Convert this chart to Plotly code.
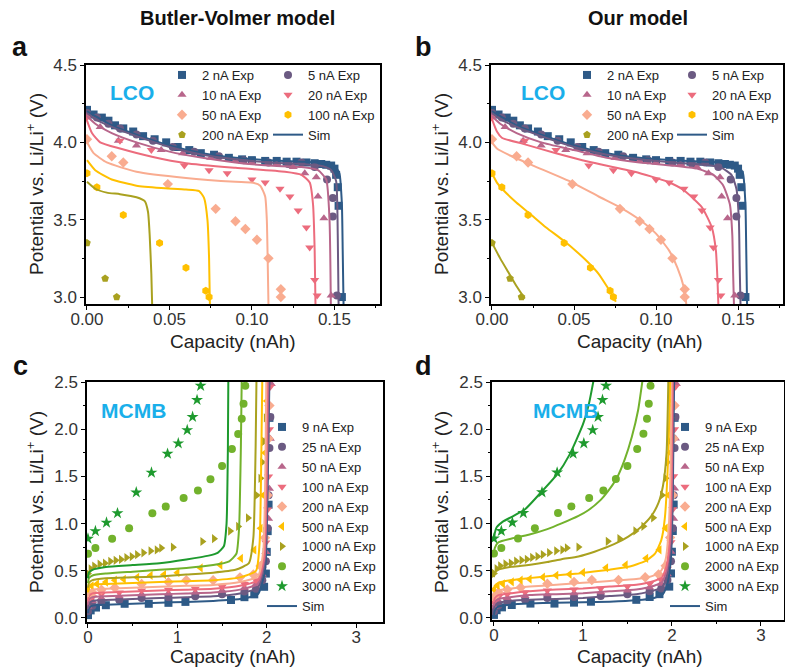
import plotly.graph_objects as go

# ---------------- LCO experimental data (shared by panels a and b) ----------------
lco_labels = ["2 nA Exp", "5 nA Exp", "10 nA Exp", "20 nA Exp", "50 nA Exp", "100 nA Exp", "200 nA Exp"]

lco_2_cap = [0.000, 0.004, 0.009, 0.013, 0.017, 0.022, 0.028, 0.034, 0.041, 0.048, 0.055, 0.062, 0.069, 0.077,
             0.086, 0.094, 0.100, 0.108, 0.115, 0.121, 0.127, 0.133, 0.138, 0.142, 0.145, 0.148, 0.150, 0.151,
             0.152, 0.1525, 0.1545]
lco_2_v = [4.21, 4.18, 4.16, 4.14, 4.11, 4.09, 4.07, 4.04, 4.02, 4.00, 3.97, 3.95, 3.93, 3.92, 3.90, 3.89, 3.885,
           3.88, 3.88, 3.875, 3.875, 3.87, 3.865, 3.86, 3.855, 3.85, 3.83, 3.79, 3.71, 3.59, 3.00]

lco_5_cap = [0.000, 0.006, 0.013, 0.020, 0.030, 0.040, 0.052, 0.065, 0.080, 0.095, 0.110, 0.122, 0.130, 0.138,
             0.1455, 0.149, 0.149, 0.1515]
lco_5_v = [4.19, 4.16, 4.12, 4.09, 4.05, 4.01, 3.97, 3.94, 3.91, 3.885, 3.87, 3.86, 3.87, 3.84, 3.76, 3.64,
           3.52, 3.01]

lco_10_cap = [0.000, 0.008, 0.019, 0.030, 0.045, 0.058, 0.075, 0.090, 0.100, 0.115, 0.125, 0.132, 0.139,
              0.140, 0.1436, 0.148]
lco_10_v = [4.17, 4.10, 4.01, 3.98, 3.95, 3.93, 3.90, 3.88, 3.87, 3.86, 3.84, 3.80, 3.775, 3.65, 3.51, 3.01]

lco_20_cap = [0.000, 0.020, 0.039, 0.059, 0.074, 0.085, 0.100, 0.108, 0.117, 0.123, 0.128, 0.133, 0.135,
              0.138, 0.1395]
lco_20_v = [4.16, 4.01, 3.95, 3.85, 3.82, 3.80, 3.76, 3.74, 3.70, 3.65, 3.56, 3.45, 3.32, 3.11, 3.01]

lco_50_cap = [0.000, 0.015, 0.022, 0.049, 0.078, 0.090, 0.096, 0.103, 0.110, 0.1175, 0.1175]
lco_50_v = [4.02, 3.91, 3.87, 3.73, 3.57, 3.49, 3.44, 3.37, 3.25, 3.05, 3.00]

lco_100_cap = [0.000, 0.006, 0.022, 0.044, 0.060, 0.072, 0.074]
lco_100_v = [3.80, 3.71, 3.53, 3.35, 3.19, 3.04, 3.00]

lco_200_cap = [0.000, 0.011, 0.018]
lco_200_v = [3.35, 3.12, 3.00]

# ---------------- LCO simulations, Butler-Volmer model (panel a) ----------------
bv_lco_2_cap = [0, 0.005, 0.015, 0.03, 0.05, 0.07, 0.09, 0.11, 0.13, 0.145, 0.150, 0.153, 0.1545, 0.155, 0.1555]
bv_lco_2_v = [4.20, 4.17, 4.11, 4.05, 3.98, 3.93, 3.90, 3.885, 3.875, 3.865, 3.85, 3.80, 3.60, 3.30, 2.95]
bv_lco_5_cap = [0, 0.005, 0.015, 0.03, 0.05, 0.07, 0.09, 0.11, 0.13, 0.143, 0.148, 0.151, 0.152, 0.1525]
bv_lco_5_v = [4.19, 4.15, 4.10, 4.04, 3.97, 3.92, 3.89, 3.87, 3.86, 3.845, 3.82, 3.75, 3.40, 2.95]
bv_lco_10_cap = [0, 0.005, 0.015, 0.03, 0.05, 0.07, 0.09, 0.11, 0.13, 0.140, 0.145, 0.147, 0.1478]
bv_lco_10_v = [4.17, 4.12, 4.06, 4.00, 3.94, 3.90, 3.87, 3.85, 3.84, 3.82, 3.76, 3.50, 2.95]
bv_lco_20_cap = [0, 0.003, 0.008, 0.02, 0.04, 0.06, 0.09, 0.12, 0.130, 0.135, 0.137, 0.138, 0.1385]
bv_lco_20_v = [4.14, 4.06, 4.00, 3.96, 3.905, 3.865, 3.835, 3.81, 3.79, 3.74, 3.60, 3.30, 2.95]
bv_lco_50_cap = [0, 0.004, 0.012, 0.03, 0.06, 0.09, 0.100, 0.105, 0.108, 0.109, 0.1095, 0.110]
bv_lco_50_v = [4.00, 3.93, 3.87, 3.81, 3.77, 3.745, 3.74, 3.72, 3.65, 3.50, 3.25, 2.95]
bv_lco_100_cap = [0, 0.005, 0.015, 0.03, 0.045, 0.06, 0.068, 0.071, 0.073, 0.074, 0.0745]
bv_lco_100_v = [3.885, 3.82, 3.76, 3.72, 3.705, 3.695, 3.685, 3.64, 3.50, 3.25, 2.95]
bv_lco_200_cap = [0, 0.005, 0.012, 0.02, 0.03, 0.035, 0.037, 0.038, 0.039, 0.0395]
bv_lco_200_v = [3.745, 3.70, 3.675, 3.665, 3.645, 3.62, 3.55, 3.40, 3.15, 2.95]

# ---------------- LCO simulations, our model (panel b) ----------------
our_lco_2_cap = [0, 0.005, 0.015, 0.03, 0.05, 0.07, 0.09, 0.11, 0.13, 0.145, 0.150, 0.153, 0.1545, 0.155, 0.1555]
our_lco_2_v = [4.20, 4.17, 4.11, 4.05, 3.98, 3.93, 3.90, 3.885, 3.875, 3.865, 3.85, 3.80, 3.60, 3.30, 2.95]
our_lco_5_cap = [0, 0.005, 0.015, 0.03, 0.05, 0.07, 0.09, 0.11, 0.13, 0.140, 0.146, 0.149, 0.1505, 0.151, 0.1515]
our_lco_5_v = [4.19, 4.15, 4.10, 4.04, 3.97, 3.92, 3.89, 3.87, 3.855, 3.835, 3.79, 3.70, 3.50, 3.20, 2.95]
our_lco_10_cap = [0, 0.005, 0.015, 0.03, 0.05, 0.07, 0.09, 0.11, 0.125, 0.135, 0.141, 0.145, 0.1465, 0.147, 0.1475]
our_lco_10_v = [4.17, 4.12, 4.06, 4.00, 3.95, 3.90, 3.87, 3.85, 3.83, 3.79, 3.72, 3.60, 3.40, 3.15, 2.95]
our_lco_20_cap = [0, 0.003, 0.006, 0.019, 0.039, 0.059, 0.087, 0.107, 0.117, 0.128, 0.134, 0.1365, 0.1375, 0.138]
our_lco_20_v = [4.15, 4.07, 4.03, 3.99, 3.93, 3.875, 3.81, 3.745, 3.69, 3.58, 3.45, 3.30, 3.10, 2.95]
our_lco_50_cap = [0, 0.003, 0.01, 0.025, 0.049, 0.065, 0.078, 0.090, 0.100, 0.108, 0.113, 0.117, 0.1185]
our_lco_50_v = [4.00, 3.96, 3.92, 3.85, 3.74, 3.65, 3.58, 3.50, 3.41, 3.30, 3.19, 3.06, 2.95]
our_lco_100_cap = [0, 0.003, 0.007, 0.015, 0.023, 0.033, 0.043, 0.052, 0.059, 0.065, 0.070, 0.0735, 0.0755]
our_lco_100_v = [3.80, 3.74, 3.69, 3.61, 3.54, 3.45, 3.37, 3.29, 3.22, 3.15, 3.07, 3.01, 2.97]
our_lco_200_cap = [0, 0.005, 0.010, 0.015, 0.020]
our_lco_200_v = [3.35, 3.25, 3.16, 3.07, 2.99]

# ---------------- MCMB experimental data (shared by panels c and d) ----------------
mcmb_labels = ["9 nA Exp", "25 nA Exp", "50 nA Exp", "100 nA Exp", "200 nA Exp", "500 nA Exp",
               "1000 nA Exp", "2000 nA Exp", "3000 nA Exp"]

mcmb_9_cap = [0.00, 0.03, 0.09, 0.20, 0.41, 0.68, 0.90, 1.09, 1.60, 1.75, 1.86, 1.97, 1.99, 2.00, 2.01, 2.02, 2.03]
mcmb_9_v = [0.03, 0.08, 0.11, 0.135, 0.15, 0.15, 0.16, 0.17, 0.19, 0.22, 0.25, 0.33, 0.47, 0.70, 0.92, 1.20, 2.12]
mcmb_25_cap = [0.00, 0.05, 0.15, 0.35, 0.60, 0.90, 1.20, 1.50, 1.75, 1.88, 1.95, 1.99, 2.01, 2.02, 2.03, 2.04]
mcmb_25_v = [0.07, 0.13, 0.17, 0.19, 0.21, 0.22, 0.23, 0.25, 0.28, 0.31, 0.40, 0.60, 0.95, 1.30, 1.80, 2.13]
mcmb_50_cap = [0.00, 0.05, 0.15, 0.35, 0.60, 0.90, 1.20, 1.50, 1.75, 1.88, 1.95, 1.99, 2.02, 2.03, 2.04, 2.05]
mcmb_50_v = [0.12, 0.18, 0.21, 0.23, 0.25, 0.26, 0.27, 0.29, 0.32, 0.36, 0.46, 0.70, 1.05, 1.37, 1.90, 2.48]
mcmb_100_cap = [0.00, 0.05, 0.15, 0.35, 0.60, 0.90, 1.20, 1.50, 1.75, 1.88, 1.95, 1.99, 2.01, 2.02, 2.03, 2.04]
mcmb_100_v = [0.17, 0.22, 0.25, 0.27, 0.29, 0.30, 0.31, 0.33, 0.36, 0.40, 0.52, 0.80, 1.15, 1.50, 2.00, 2.45]
mcmb_200_cap = [0.00, 0.05, 0.15, 0.30, 0.60, 0.90, 1.10, 1.40, 1.70, 1.85, 1.93, 1.98, 2.01, 2.02, 2.03]
mcmb_200_v = [0.22, 0.27, 0.30, 0.32, 0.36, 0.38, 0.40, 0.40, 0.43, 0.46, 0.55, 0.85, 1.30, 1.90, 2.25]
mcmb_500_cap = [0.00, 0.04, 0.10, 0.20, 0.30, 0.40, 0.55, 0.70, 0.85, 1.00, 1.26, 1.48, 1.71, 1.86, 1.93, 1.96,
                1.98, 2.00]
mcmb_500_v = [0.30, 0.34, 0.36, 0.38, 0.40, 0.41, 0.43, 0.45, 0.46, 0.48, 0.53, 0.56, 0.63, 0.72, 0.95, 1.30,
              1.75, 2.30]
mcmb_1000_cap = [0.00, 0.03, 0.07, 0.13, 0.19, 0.25, 0.31, 0.37, 0.43, 0.49, 0.55, 0.62, 0.70, 0.77, 0.82, 0.95,
                 1.28, 1.41, 1.59, 1.68, 1.79, 1.89, 1.93, 1.95, 1.97, 1.99]
mcmb_1000_v = [0.47, 0.52, 0.55, 0.57, 0.58, 0.60, 0.61, 0.62, 0.64, 0.65, 0.67, 0.69, 0.71, 0.72, 0.74, 0.75,
               0.81, 0.84, 0.92, 0.97, 1.06, 1.30, 1.48, 1.65, 1.87, 2.12]
mcmb_2000_cap = [0.00, 0.083, 0.27, 0.46, 0.72, 0.87, 1.07, 1.23, 1.37, 1.50, 1.61, 1.68, 1.72, 1.74, 1.76]
mcmb_2000_v = [0.68, 0.74, 0.84, 0.95, 1.11, 1.18, 1.27, 1.35, 1.47, 1.61, 1.79, 1.95, 2.11, 2.27, 2.46]
mcmb_3000_cap = [0.00, 0.083, 0.207, 0.33, 0.54, 0.71, 0.89, 1.01, 1.11, 1.17, 1.22, 1.26]
mcmb_3000_v = [0.84, 0.92, 1.01, 1.11, 1.33, 1.54, 1.74, 1.85, 1.99, 2.13, 2.31, 2.46]

# ---------------- MCMB simulations, Butler-Volmer model (panel c) ----------------
bv_mcmb_9_cap = [0, 0.01, 0.05, 0.2, 0.5, 0.8, 1.1, 1.4, 1.7, 1.9, 1.98, 2.01, 2.03]
bv_mcmb_9_v = [0.05, 0.10, 0.13, 0.14, 0.15, 0.16, 0.17, 0.18, 0.20, 0.25, 0.50, 1.40, 2.55]
bv_mcmb_25_cap = [0, 0.01, 0.05, 0.2, 0.5, 0.8, 1.1, 1.4, 1.7, 1.9, 1.975, 2.005, 2.025]
bv_mcmb_25_v = [0.10, 0.15, 0.18, 0.19, 0.20, 0.21, 0.22, 0.23, 0.26, 0.32, 0.58, 1.45, 2.55]
bv_mcmb_50_cap = [0, 0.01, 0.05, 0.2, 0.5, 0.8, 1.1, 1.4, 1.7, 1.9, 1.972, 2.0, 2.015]
bv_mcmb_50_v = [0.14, 0.19, 0.22, 0.23, 0.24, 0.25, 0.26, 0.27, 0.30, 0.36, 0.62, 1.50, 2.55]
bv_mcmb_100_cap = [0, 0.01, 0.05, 0.2, 0.5, 0.8, 1.1, 1.4, 1.7, 1.9, 1.97, 1.995, 2.005]
bv_mcmb_100_v = [0.18, 0.23, 0.26, 0.27, 0.28, 0.29, 0.30, 0.31, 0.34, 0.40, 0.65, 1.50, 2.55]
bv_mcmb_200_cap = [0, 0.01, 0.05, 0.2, 0.5, 0.8, 1.1, 1.4, 1.7, 1.9, 1.96, 1.985, 1.995]
bv_mcmb_200_v = [0.22, 0.27, 0.30, 0.31, 0.32, 0.33, 0.34, 0.35, 0.38, 0.44, 0.70, 1.60, 2.55]
bv_mcmb_500_cap = [0, 0.01, 0.05, 0.2, 0.5, 0.8, 1.1, 1.4, 1.7, 1.88, 1.92, 1.94, 1.95]
bv_mcmb_500_v = [0.27, 0.32, 0.35, 0.36, 0.37, 0.38, 0.39, 0.40, 0.43, 0.50, 0.80, 1.80, 2.55]
bv_mcmb_1000_cap = [0, 0.01, 0.05, 0.2, 0.5, 0.8, 1.1, 1.4, 1.65, 1.80, 1.85, 1.875, 1.885]
bv_mcmb_1000_v = [0.32, 0.37, 0.40, 0.42, 0.43, 0.44, 0.46, 0.48, 0.51, 0.58, 0.85, 1.80, 2.55]
bv_mcmb_2000_cap = [0, 0.01, 0.05, 0.2, 0.5, 0.8, 1.1, 1.4, 1.58, 1.66, 1.69, 1.71, 1.72]
bv_mcmb_2000_v = [0.37, 0.42, 0.45, 0.47, 0.49, 0.51, 0.53, 0.56, 0.60, 0.68, 0.95, 1.80, 2.55]
bv_mcmb_3000_cap = [0, 0.01, 0.05, 0.2, 0.5, 0.8, 1.1, 1.35, 1.45, 1.52, 1.55, 1.565, 1.57]
bv_mcmb_3000_v = [0.42, 0.48, 0.51, 0.54, 0.56, 0.58, 0.62, 0.66, 0.69, 0.76, 1.00, 1.80, 2.55]

# ---------------- MCMB simulations, our model (panel d) ----------------
our_mcmb_9_cap = [0, 0.01, 0.05, 0.2, 0.4, 0.7, 1.0, 1.3, 1.6, 1.8, 1.9, 1.95, 1.99, 2.01, 2.025]
our_mcmb_9_v = [0.03, 0.08, 0.12, 0.14, 0.15, 0.16, 0.165, 0.17, 0.185, 0.21, 0.25, 0.36, 0.65, 1.30, 2.52]
our_mcmb_25_cap = [0, 0.01, 0.05, 0.2, 0.4, 0.7, 1.0, 1.3, 1.6, 1.8, 1.895, 1.945, 1.985, 2.005, 2.015]
our_mcmb_25_v = [0.09, 0.13, 0.16, 0.18, 0.19, 0.20, 0.21, 0.23, 0.25, 0.29, 0.33, 0.45, 0.75, 1.40, 2.52]
our_mcmb_50_cap = [0, 0.01, 0.05, 0.2, 0.4, 0.7, 1.0, 1.3, 1.6, 1.8, 1.89, 1.94, 1.98, 2.0, 2.01]
our_mcmb_50_v = [0.13, 0.17, 0.20, 0.22, 0.24, 0.25, 0.26, 0.28, 0.30, 0.34, 0.38, 0.50, 0.80, 1.45, 2.52]
our_mcmb_100_cap = [0, 0.01, 0.05, 0.2, 0.4, 0.7, 1.0, 1.3, 1.6, 1.8, 1.89, 1.94, 1.975, 1.995, 2.005]
our_mcmb_100_v = [0.17, 0.21, 0.24, 0.26, 0.28, 0.30, 0.31, 0.33, 0.35, 0.39, 0.43, 0.55, 0.85, 1.50, 2.52]
our_mcmb_200_cap = [0, 0.01, 0.05, 0.2, 0.4, 0.7, 1.0, 1.3, 1.6, 1.8, 1.88, 1.93, 1.965, 1.985, 1.995]
our_mcmb_200_v = [0.22, 0.26, 0.29, 0.31, 0.33, 0.35, 0.37, 0.39, 0.41, 0.45, 0.50, 0.62, 0.95, 1.60, 2.52]
our_mcmb_500_cap = [0, 0.01, 0.05, 0.2, 0.39, 0.6, 0.95, 1.3, 1.51, 1.7, 1.81, 1.88, 1.92, 1.96, 1.98]
our_mcmb_500_v = [0.29, 0.34, 0.37, 0.40, 0.42, 0.44, 0.47, 0.51, 0.54, 0.60, 0.68, 0.82, 1.05, 1.75, 2.52]
our_mcmb_1000_cap = [0, 0.01, 0.05, 0.2, 0.39, 0.6, 0.76, 0.95, 1.13, 1.35, 1.51, 1.65, 1.77, 1.85, 1.90, 1.94, 1.96]
our_mcmb_1000_v = [0.43, 0.48, 0.51, 0.54, 0.56, 0.59, 0.62, 0.65, 0.70, 0.78, 0.86, 0.96, 1.08, 1.22, 1.40,
                   1.75, 2.52]
our_mcmb_2000_cap = [0, 0.01, 0.05, 0.2, 0.39, 0.6, 0.76, 0.95, 1.06, 1.2, 1.28, 1.38, 1.47, 1.55, 1.62, 1.67]
our_mcmb_2000_v = [0.67, 0.74, 0.80, 0.84, 0.88, 0.94, 1.00, 1.08, 1.14, 1.25, 1.34, 1.48, 1.68, 1.92, 2.20, 2.52]
our_mcmb_3000_cap = [0, 0.01, 0.03, 0.1, 0.2, 0.35, 0.52, 0.71, 0.85, 1.0, 1.07, 1.12]
our_mcmb_3000_v = [0.83, 0.90, 0.96, 1.02, 1.07, 1.15, 1.32, 1.52, 1.73, 2.05, 2.28, 2.52]

# ---------------- styling ----------------
FONT = "Arial, Liberation Sans, sans-serif"
lco_colors = ["#2E5A87", "#6B5A82", "#B8668B", "#EC6C7D", "#F9AC90", "#FFC000", "#A9A11F"]
lco_symbols = ["square", "circle", "triangle-up", "triangle-down", "diamond", "hexagon", "pentagon"]
mcmb_colors = ["#2E5A87", "#6B5A82", "#B8668B", "#EC6C7D", "#F9AC90", "#FFC000", "#A9A11F", "#72B22C", "#1E9A2E"]
mcmb_symbols = ["square", "circle", "triangle-up", "triangle-down", "diamond", "triangle-left",
                "triangle-right", "circle", "star"]
SIM_COLOR = "#2E5A87"

lco_exp = [(lco_2_cap, lco_2_v), (lco_5_cap, lco_5_v), (lco_10_cap, lco_10_v), (lco_20_cap, lco_20_v),
           (lco_50_cap, lco_50_v), (lco_100_cap, lco_100_v), (lco_200_cap, lco_200_v)]
bv_lco = [(bv_lco_2_cap, bv_lco_2_v), (bv_lco_5_cap, bv_lco_5_v), (bv_lco_10_cap, bv_lco_10_v),
          (bv_lco_20_cap, bv_lco_20_v), (bv_lco_50_cap, bv_lco_50_v), (bv_lco_100_cap, bv_lco_100_v),
          (bv_lco_200_cap, bv_lco_200_v)]
our_lco = [(our_lco_2_cap, our_lco_2_v), (our_lco_5_cap, our_lco_5_v), (our_lco_10_cap, our_lco_10_v),
           (our_lco_20_cap, our_lco_20_v), (our_lco_50_cap, our_lco_50_v), (our_lco_100_cap, our_lco_100_v),
           (our_lco_200_cap, our_lco_200_v)]
mcmb_exp = [(mcmb_9_cap, mcmb_9_v), (mcmb_25_cap, mcmb_25_v), (mcmb_50_cap, mcmb_50_v), (mcmb_100_cap, mcmb_100_v),
            (mcmb_200_cap, mcmb_200_v), (mcmb_500_cap, mcmb_500_v), (mcmb_1000_cap, mcmb_1000_v),
            (mcmb_2000_cap, mcmb_2000_v), (mcmb_3000_cap, mcmb_3000_v)]
bv_mcmb = [(bv_mcmb_9_cap, bv_mcmb_9_v), (bv_mcmb_25_cap, bv_mcmb_25_v), (bv_mcmb_50_cap, bv_mcmb_50_v),
           (bv_mcmb_100_cap, bv_mcmb_100_v), (bv_mcmb_200_cap, bv_mcmb_200_v), (bv_mcmb_500_cap, bv_mcmb_500_v),
           (bv_mcmb_1000_cap, bv_mcmb_1000_v), (bv_mcmb_2000_cap, bv_mcmb_2000_v), (bv_mcmb_3000_cap, bv_mcmb_3000_v)]
our_mcmb = [(our_mcmb_9_cap, our_mcmb_9_v), (our_mcmb_25_cap, our_mcmb_25_v), (our_mcmb_50_cap, our_mcmb_50_v),
            (our_mcmb_100_cap, our_mcmb_100_v), (our_mcmb_200_cap, our_mcmb_200_v),
            (our_mcmb_500_cap, our_mcmb_500_v), (our_mcmb_1000_cap, our_mcmb_1000_v),
            (our_mcmb_2000_cap, our_mcmb_2000_v), (our_mcmb_3000_cap, our_mcmb_3000_v)]

fig = go.Figure()


def add_panel(xa, ya, exp, sims, labels, colors, symbols, legend_for, sim_legend):
    for i, (cx, cy) in enumerate(exp):
        fig.add_trace(go.Scatter(
            x=cx, y=cy, mode="markers", name=labels[i], xaxis=xa, yaxis=ya,
            marker=dict(symbol=symbols[i], color=colors[i], size=8 if symbols[i] != "star" else 9,
                        line=dict(width=0)),
            legend=legend_for(i)))
    for i, (cx, cy) in enumerate(sims):
        fig.add_trace(go.Scatter(
            x=cx, y=cy, mode="lines", xaxis=xa, yaxis=ya, showlegend=False,
            line=dict(color=colors[i], width=2, shape="spline", smoothing=0.5)))
    fig.add_trace(go.Scatter(
        x=[None], y=[None], mode="lines", name="Sim", xaxis=xa, yaxis=ya,
        line=dict(color=SIM_COLOR, width=2), legend=sim_legend))


# LCO legends: two columns each
add_panel("x", "y", lco_exp, bv_lco, lco_labels, lco_colors, lco_symbols,
          lambda i: "legend" if i % 2 == 0 else "legend2", "legend2")
add_panel("x2", "y2", lco_exp, our_lco, lco_labels, lco_colors, lco_symbols,
          lambda i: "legend3" if i % 2 == 0 else "legend4", "legend4")
add_panel("x3", "y3", mcmb_exp, bv_mcmb, mcmb_labels, mcmb_colors, mcmb_symbols,
          lambda i: "legend5", "legend5")
add_panel("x4", "y4", mcmb_exp, our_mcmb, mcmb_labels, mcmb_colors, mcmb_symbols,
          lambda i: "legend6", "legend6")

W, H = 785, 670


def px(xp):
    return xp / W


def py(yp):
    return 1 - yp / H


axis_common = dict(showline=True, linecolor="black", linewidth=1.5, mirror=True, showgrid=False,
                   zeroline=False, ticks="outside", ticklen=4, tickwidth=1.2, tickcolor="black",
                   automargin=False,
                   tickfont=dict(family=FONT, size=17, color="#333333"))
minor_common = dict(ticks="outside", ticklen=2, tickcolor="black", tickwidth=1)
xaxis_extra = dict(ticklabelstandoff=-5)

lay = dict(
    width=W, height=H, margin=dict(l=0, r=0, t=0, b=0, autoexpand=False),
    paper_bgcolor="white", plot_bgcolor="white",
    font=dict(family=FONT, color="#222222"),
    xaxis=dict(domain=[px(86), px(380)], anchor="y", range=[-0.0006, 0.1776], dtick=0.05, tick0=0,
               tickformat=".2f", minor=dict(dtick=0.025, **minor_common), **axis_common, **xaxis_extra),
    yaxis=dict(domain=[py(304), py(65)], anchor="x", range=[2.955, 4.5], dtick=0.5, tick0=0,
               tickformat=".1f", minor=dict(dtick=0.25, **minor_common), **axis_common),
    xaxis2=dict(domain=[px(491), px(783)], anchor="y2", range=[-0.0006, 0.1774], dtick=0.05, tick0=0,
                tickformat=".2f", minor=dict(dtick=0.025, **minor_common), **axis_common, **xaxis_extra),
    yaxis2=dict(domain=[py(304), py(65)], anchor="x2", range=[2.955, 4.5], dtick=0.5, tick0=0,
                tickformat=".1f", minor=dict(dtick=0.25, **minor_common), **axis_common),
    xaxis3=dict(domain=[px(87), px(383)], anchor="y3", range=[-0.011, 3.30], dtick=1, tick0=0,
                minor=dict(dtick=0.5, **minor_common), **axis_common, **xaxis_extra),
    yaxis3=dict(domain=[py(622), py(382)], anchor="x3", range=[-0.043, 2.5], dtick=0.5, tick0=0,
                tickformat=".1f", minor=dict(dtick=0.25, **minor_common), **axis_common),
    xaxis4=dict(domain=[px(492), px(784)], anchor="y4", range=[-0.022, 3.26], dtick=1, tick0=0,
                minor=dict(dtick=0.5, **minor_common), **axis_common, **xaxis_extra),
    yaxis4=dict(domain=[py(620), py(382)], anchor="x4", range=[-0.024, 2.5], dtick=0.5, tick0=0,
                tickformat=".1f", minor=dict(dtick=0.25, **minor_common), **axis_common),
)

leg_common = dict(bgcolor="rgba(0,0,0,0)", borderwidth=0, xanchor="left", yanchor="top",
                  font=dict(family=FONT, size=13, color="#222222"), tracegroupgap=0)
lay["legend"] = dict(x=px(162), y=py(60), **leg_common)
lay["legend2"] = dict(x=px(268), y=py(60), **leg_common)
lay["legend3"] = dict(x=px(567), y=py(60), **leg_common)
lay["legend4"] = dict(x=px(672), y=py(60), **leg_common)
lay["legend5"] = dict(x=px(262), y=py(412), **leg_common)
lay["legend6"] = dict(x=px(665), y=py(412), **leg_common)

fig.update_layout(**lay)

annotations = []


def ann(text, x, y, size, bold=False, color="#222222", angle=0):
    annotations.append(dict(text=f"<b>{text}</b>" if bold else text, x=px(x), y=py(y), xref="paper",
                            yref="paper", showarrow=False, xanchor="center", yanchor="middle",
                            textangle=angle, font=dict(family=FONT, size=size, color=color)))


ann("Butler-Volmer model", 237, 18, 20, bold=True, color="#111111")
ann("Our model", 638, 18, 20, bold=True, color="#111111")
ann("a", 20, 47, 27, bold=True, color="#111111")
ann("b", 423, 47, 27, bold=True, color="#111111")
ann("c", 20, 366, 27, bold=True, color="#111111")
ann("d", 423, 366, 27, bold=True, color="#111111")
ann("LCO", 132, 93, 21, bold=True, color="#1AAFEA")
ann("LCO", 543, 93, 21, bold=True, color="#1AAFEA")
ann("MCMB", 133, 410, 21, bold=True, color="#1AAFEA")
ann("MCMB", 565, 411, 21, bold=True, color="#1AAFEA")
ylab = "Potential vs. Li/Li<sup>+</sup> (V)"
ann(ylab, 35, 184, 19, angle=-90)
ann(ylab, 440, 184, 19, angle=-90)
ann(ylab, 35, 502, 19, angle=-90)
ann(ylab, 440, 502, 19, angle=-90)
ann("Capacity (nAh)", 233, 341, 19)
ann("Capacity (nAh)", 640, 341, 19)
ann("Capacity (nAh)", 233, 656, 19)
ann("Capacity (nAh)", 640, 656, 19)

fig.update_layout(annotations=annotations)

# remove the default page margin so the 785x670 figure sits at the window origin
fig.write_html("out.html", config={"displayModeBar": False},
               post_script="document.body.style.margin='0px';document.body.style.overflow='hidden';")
